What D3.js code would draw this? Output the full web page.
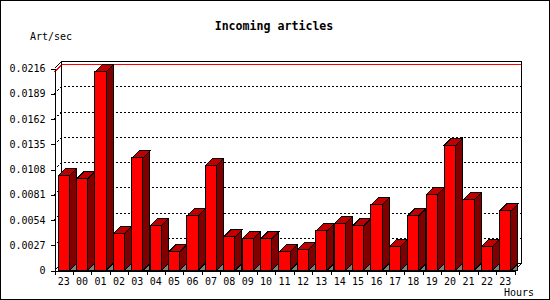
<!DOCTYPE html>
<html>
<head>
<meta charset="utf-8">
<script src="https://cdnjs.cloudflare.com/ajax/libs/d3/7.8.5/d3.min.js"></script>
<style>
	html, body { margin: 0; padding: 0; background: #fff; }
	svg { display: block; }
	text { font-family: "DejaVu Sans Mono", monospace; fill: #000; }
</style>
</head>
<body>
<main></main>
<script>
// Hours on the x axis (first and last are both 23)
const hours = ["23", "00", "01", "02", "03", "04", "05", "06", "07", "08", "09", "10", "11",
	"12", "13", "14", "15", "16", "17", "18", "19", "20", "21", "22", "23"];
// Incoming articles per second
const artPerSec = [0.01014, 0.00979, 0.02124, 0.00392, 0.01203, 0.00477, 0.00199, 0.00584,
	0.01121, 0.00359, 0.00338, 0.00338, 0.00199, 0.00221, 0.00423, 0.00498, 0.00477, 0.00701,
	0.00253, 0.00584, 0.00811, 0.01341, 0.00754, 0.00253, 0.00637];
// y axis ticks
const yTicks = [0, 0.0027, 0.0054, 0.0081, 0.0108, 0.0135, 0.0162, 0.0189, 0.0216];
const yTickLabels = ["0", "0.0027", "0.0054", "0.0081", "0.0108", "0.0135", "0.0162", "0.0189", "0.0216"];

document.addEventListener("DOMContentLoaded", function() {
	const sw = 550,
		sh = 300,
		//front plot area
		left = 54,
		right = 514,
		bottom = 270,
		top = 68,
		//3d depth
		dx = 7,
		dy = 7,
		idx = hours.map((h, i) => i),
		x = d3
			.scaleBand()
			.domain(idx)
			.range([left, right])
			.paddingInner(0.4)
			.paddingOuter(0.2),
		xb = d3.scaleLinear().domain([0, hours.length]).range([left, right]),
		y = d3.scaleLinear().domain([0, yTicks[yTicks.length - 1]]).range([bottom, top]),
		bw = x.bandwidth();

	const svg = d3
		.select("main")
		.append("svg")
		.attr("width", sw)
		.attr("height", sh)
		.attr("shape-rendering", "crispEdges");

	//outer frame
	svg
		.append("rect")
		.attr("x", 0.5)
		.attr("y", 0.5)
		.attr("width", sw - 1)
		.attr("height", sh - 1)
		.attr("fill", "#fff")
		.attr("stroke", "#000");

	svg
		.append("text")
		.attr("x", 274)
		.attr("y", 30)
		.attr("text-anchor", "middle")
		.style("font-size", "11.6px")
		.style("font-weight", "bold")
		.text("Incoming articles");
	svg
		.append("text")
		.attr("x", 30)
		.attr("y", 40)
		.style("font-size", "10px")
		.text("Art/sec");
	svg
		.append("text")
		.attr("x", 534)
		.attr("y", 296)
		.attr("text-anchor", "end")
		.style("font-size", "10px")
		.text("Hours");

	/*---------Back wall, grid and floor-----------*/
	const g = svg.append("g").attr("transform", "translate(0.5,0.5)");
	const grid = yTicks.slice(1, -1);
	g.selectAll(".grid")
		.data(grid)
		.enter()
		.append("path")
		.attr("class", "grid")
		.attr("d", (d) => "M" + left + "," + y(d) + "L" + (left + dx) + "," + (y(d) - dy) + "H" + (right + dx))
		.attr("fill", "none")
		.attr("stroke", "#000")
		.attr("stroke-dasharray", "2,2");
	const mx = d3.max(artPerSec);
	g.append("path")
		.attr("d", "M" + left + "," + y(mx) + "L" + (left + dx) + "," + (y(mx) - dy) + "H" + (right + dx))
		.attr("fill", "none")
		.attr("stroke", "#f00");
	g.append("path")
		.attr("d", "M" + left + "," + top + "L" + (left + dx) + "," + (top - dy) + "H" + (right + dx) + "V" + (bottom - dy) +
			"H" + (left + dx) + "V" + (top - dy) + "M" + left + "," + bottom + "L" + (left + dx) + "," + (bottom - dy) +
			"M" + right + "," + bottom + "L" + (right + dx) + "," + (bottom - dy))
		.attr("fill", "none")
		.attr("stroke", "#000");

	/*---------Bars-----------*/
	const bars = g
		.selectAll(".bar")
		.data(artPerSec)
		.enter()
		.append("g")
		.attr("class", "bar");
	bars
		.append("path")
		.attr("d", (d, i) => {
			const x0 = x(i) + bw;
			return "M" + x0 + "," + bottom + "L" + (x0 + dx) + "," + (bottom - dy) + "V" + bottom + "Z";
		})
		.attr("fill", "#808080")
		.attr("stroke", "#000");
	bars
		.append("path")
		.attr("d", (d, i) => {
			const x0 = x(i) + bw;
			return "M" + x0 + "," + y(d) + "L" + (x0 + dx) + "," + (y(d) - dy) + "V" + (bottom - dy) + "L" + x0 + "," + bottom + "Z";
		})
		.attr("fill", "#800000")
		.attr("stroke", "#000");
	bars
		.append("path")
		.attr("d", (d, i) => {
			const x0 = x(i);
			return "M" + x0 + "," + y(d) + "L" + (x0 + dx) + "," + (y(d) - dy) + "H" + (x0 + bw + dx) + "L" + (x0 + bw) + "," + y(d) + "Z";
		})
		.attr("fill", "#c00000")
		.attr("stroke", "#000");
	bars
		.append("rect")
		.attr("x", (d, i) => x(i))
		.attr("y", (d) => y(d))
		.attr("width", bw)
		.attr("height", (d) => bottom - y(d))
		.attr("fill", "#f00")
		.attr("stroke", "#000");

	/*---------Axes-----------*/
	const yAxis = d3
		.axisLeft(y)
		.tickValues(yTicks)
		.tickFormat((d, i) => yTickLabels[i])
		.tickSize(4)
		.tickSizeOuter(0)
		.tickPadding(5);
	svg
		.append("g")
		.attr("transform", "translate(" + (left + 0.5) + ",0.5)")
		.call(yAxis)
		.call((a) => a.selectAll("text").style("font-size", "10px").style("font-family", null));

	const xTickAxis = d3
		.axisBottom(xb)
		.tickValues(d3.range(hours.length + 1))
		.tickFormat("")
		.tickSize(4)
		.tickSizeOuter(0);
	svg
		.append("g")
		.attr("transform", "translate(0.5," + (bottom + 0.5) + ")")
		.call(xTickAxis);
	const xAxis = d3
		.axisBottom(x)
		.tickFormat((i) => hours[i])
		.tickSize(0)
		.tickPadding(7);
	svg
		.append("g")
		.attr("transform", "translate(0.5," + (bottom + 0.5) + ")")
		.call(xAxis)
		.call((a) => a.select(".domain").remove())
		.call((a) => a.selectAll("text").style("font-size", "10px").style("font-family", null));
});
</script>
</body>
</html>
